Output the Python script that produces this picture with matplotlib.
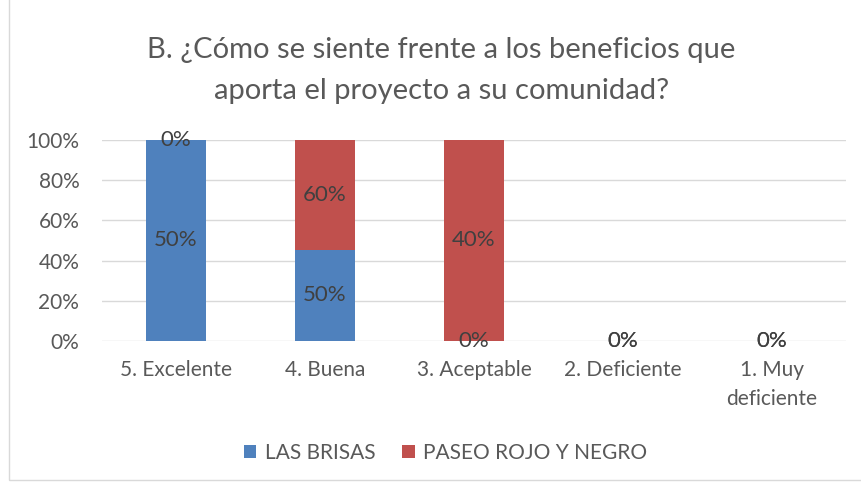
import numpy as np
import matplotlib.pyplot as plt
from matplotlib.patches import Rectangle

categorias = ['5. Excelente', '4. Buena', '3. Aceptable', '2. Deficiente', '1. Muy\ndeficiente']
las_brisas = [0.50, 0.50, 0.00, 0.00, 0.00]
paseo_rojo_negro = [0.00, 0.60, 0.40, 0.00, 0.00]
series = ['LAS BRISAS', 'PASEO ROJO Y NEGRO']
titulo = 'B. ¿Cómo se siente frente a los beneficios que\naporta el proyecto a su comunidad?'

AZUL = '#4F81BD'
ROJO = '#C0504D'
TEXTO = '#595959'

plt.rcParams['font.family'] = ['Lato', 'DejaVu Sans']

# apilado al 100%
a = np.array(las_brisas)
b = np.array(paseo_rojo_negro)
tot = a + b
tot_safe = np.where(tot == 0, 1, tot)
pa = a / tot_safe
pb = b / tot_safe

x = np.arange(len(categorias))
fig = plt.figure(figsize=(8.62, 4.86), dpi=100)
ax = fig.add_axes([0.1178, 0.2984, 0.8642, 0.4136])

ax.bar(x, pa, width=0.4, color=AZUL, label=series[0], zorder=3)
ax.bar(x, pb, width=0.4, bottom=pa, color=ROJO, label=series[1], zorder=3)

for i in range(len(x)):
    ax.text(x[i], pa[i] / 2, f'{a[i]:.0%}', ha='center', va='center',
            fontsize=16, color='#404040', zorder=4)
    ax.text(x[i], pa[i] + pb[i] / 2, f'{b[i]:.0%}', ha='center', va='center',
            fontsize=16, color='#404040', zorder=4)

ax.set_xlim(-0.5, len(x) - 0.5)
ax.set_ylim(0, 1)
ax.set_yticks(np.arange(0, 1.01, 0.2))
ax.set_yticklabels([f'{v:.0%}' for v in np.arange(0, 1.01, 0.2)])
ax.set_xticks(x)
ax.set_xticklabels(categorias, linespacing=1.55)
ax.tick_params(axis='both', length=0, labelsize=15, labelcolor=TEXTO)
ax.tick_params(axis='x', pad=14)
ax.tick_params(axis='y', pad=16)
ax.grid(axis='y', color='#D9D9D9', linewidth=1, zorder=0)
for s in ax.spines.values():
    s.set_visible(False)

fig.text(0.512, 0.855, titulo, ha='center', va='center', fontsize=21,
         color=TEXTO, linespacing=1.7)

fig.legend(loc='center', bbox_to_anchor=(0.517, 0.068), ncol=2, frameon=False,
           fontsize=15, labelcolor=TEXTO, handlelength=0.6, handleheight=0.6,
           columnspacing=1.3, handletextpad=0.4)

# borde del área del gráfico
fig.patches.append(Rectangle((0.011, 0.012), 1.2, 1.2, transform=fig.transFigure,
                             fill=False, edgecolor='#D9D9D9', linewidth=1))

fig.savefig('out.png', dpi=100)
